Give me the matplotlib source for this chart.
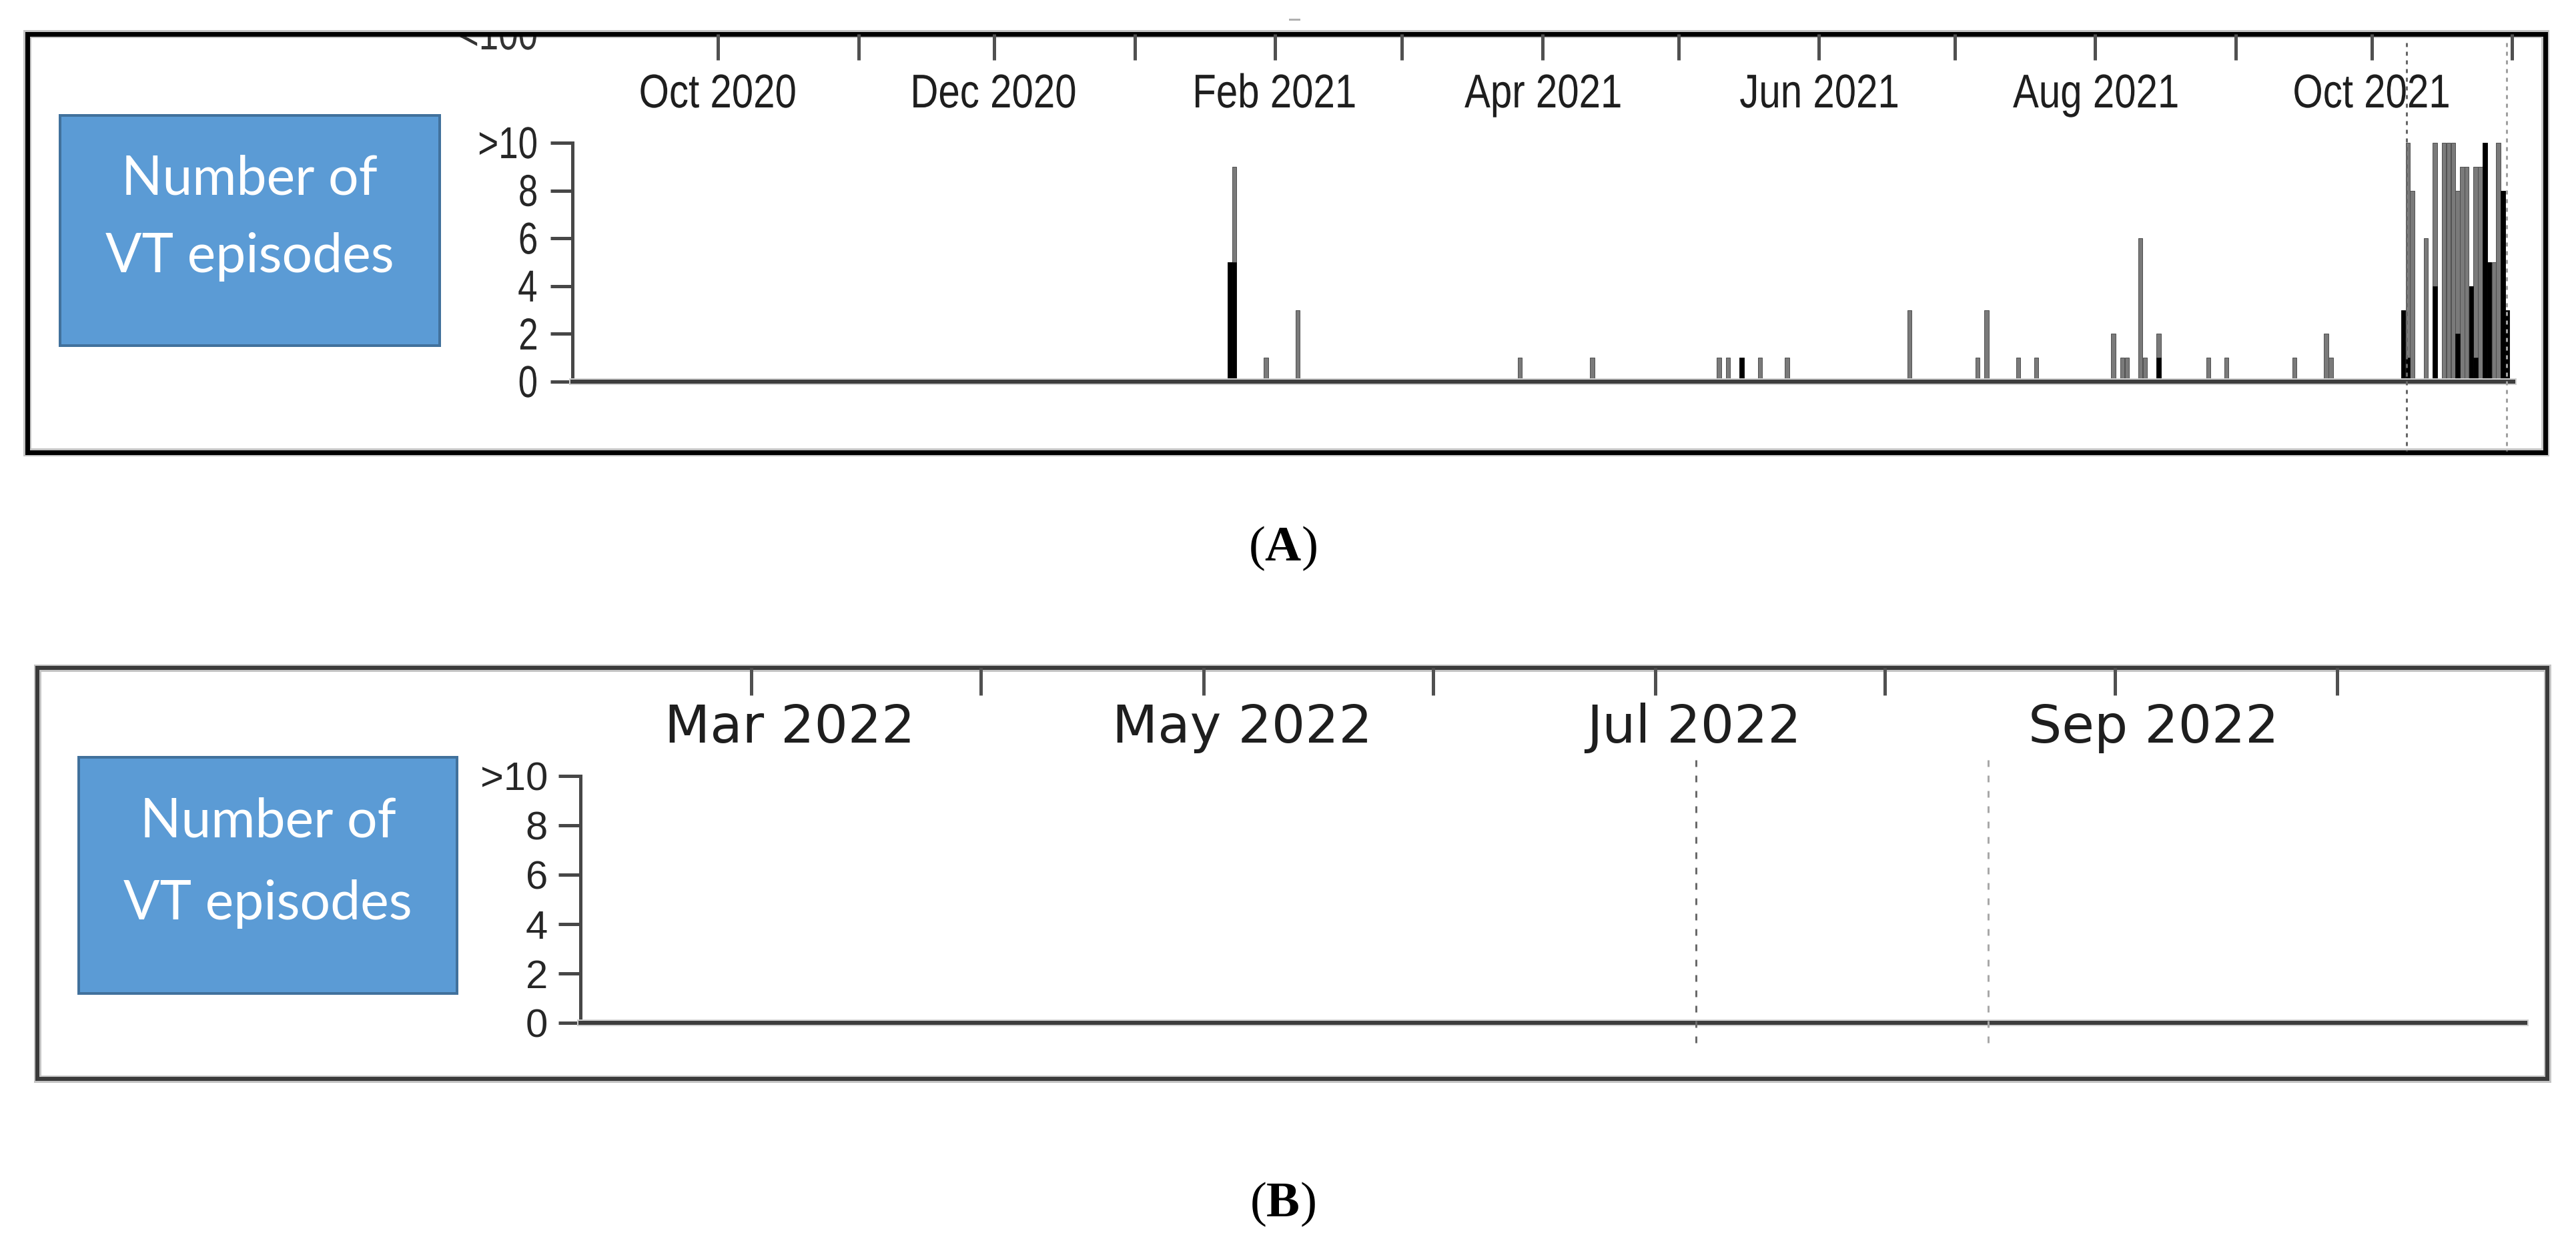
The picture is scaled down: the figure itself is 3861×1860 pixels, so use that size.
import matplotlib
matplotlib.use('Agg')
import matplotlib.pyplot as plt
import matplotlib.dates as mdates
import matplotlib.patheffects as pe
from matplotlib import font_manager
from matplotlib.font_manager import FontProperties
from matplotlib.patches import Rectangle, PathPatch
from matplotlib.lines import Line2D
from matplotlib.textpath import TextPath
from matplotlib.transforms import (blended_transform_factory, ScaledTranslation, Bbox,
                                   Affine2D)
import pandas as pd

# ---------------- data ----------------
a_dates = ['2021-01-22', '2021-01-23', '2021-01-30', '2021-02-06', '2021-03-27', '2021-04-12',
           '2021-05-10', '2021-05-12', '2021-05-15', '2021-05-19', '2021-05-25', '2021-06-21',
           '2021-07-06', '2021-07-08', '2021-07-15', '2021-07-19',
           '2021-08-05', '2021-08-07', '2021-08-08', '2021-08-11', '2021-08-12', '2021-08-15',
           '2021-08-26', '2021-08-30',
           '2021-09-14', '2021-09-21', '2021-09-22',
           '2021-10-08', '2021-10-09', '2021-10-10', '2021-10-13', '2021-10-15', '2021-10-17',
           '2021-10-18', '2021-10-19', '2021-10-20', '2021-10-21', '2021-10-22', '2021-10-23',
           '2021-10-24', '2021-10-25', '2021-10-26', '2021-10-27', '2021-10-28', '2021-10-29',
           '2021-10-30', '2021-10-31']
a_total = [5, 9, 1, 3, 1, 1,
           1, 1, 1, 1, 1, 3,
           1, 3, 1, 1,
           2, 1, 1, 6, 1, 2, 1, 1,
           1, 2, 1,
           3, 10, 8, 6, 10, 10, 10, 10, 8, 9, 9, 4, 9, 9, 10, 5, 5, 10, 8, 3]
a_black = [5, 5, 0, 0, 0, 0,
           0, 0, 1, 0, 0, 0,
           0, 0, 0, 0,
           0, 0, 0, 0, 0, 1, 0, 0,
           0, 0, 0,
           3, 1, 0, 0, 4, 0, 0, 0, 2, 0, 0, 4, 1, 0, 10, 5, 0, 0, 8, 3]
a_tick_start, a_tick_end = '2020-10-01', '2021-11-01'
a_label_dates = ['2020-10-01', '2020-12-01', '2021-02-01', '2021-04-01',
                 '2021-06-01', '2021-08-01', '2021-10-01']
a_labels = ['Oct 2020', 'Dec 2020', 'Feb 2021', 'Apr 2021', 'Jun 2021', 'Aug 2021', 'Oct 2021']
a_markers = ['2021-10-08 19:00', '2021-10-30 19:00']
a_xlim = ('2020-08-29 21:30', '2021-11-01 07:00')

b_dates = []
b_total = []
b_black = []
b_tick_start, b_tick_end = '2022-03-01', '2022-10-01'
b_label_dates = ['2022-03-01', '2022-05-01', '2022-07-01', '2022-09-01']
b_labels = ['Mar 2022', 'May 2022', 'Jul 2022', 'Sep 2022']
b_markers = ['2022-07-06 12:00', '2022-08-14 22:00']
b_xlim = ('2022-02-05 22:50', '2022-10-26 09:30')

y_ticks = [0, 2, 4, 6, 8, 10]
y_ticklabels = ['0', '2', '4', '6', '8', '>10']
box_lines = ['Number of', 'VT episodes']
captions = ['(A)', '(B)']

# ---------------- setup ----------------
W, H, DPI = 3861, 1860, 100
PT = 72.0 / DPI
plt.rcParams['lines.scale_dashes'] = False
plt.rcParams['mathtext.fontset'] = 'custom'
plt.rcParams['mathtext.rm'] = 'Liberation Serif'
plt.rcParams['mathtext.bf'] = 'Liberation Serif:bold'

names = {f.name for f in font_manager.fontManager.ttflist}
BOXFONT = 'Lato' if 'Lato' in names else 'DejaVu Sans'
NARROW_PROP = FontProperties(family='Liberation Sans')

GRAY, GRAY_EDGE = '#7a7a7a', '#4f4f4f'
AXC = '#474747'

fig = plt.figure(figsize=(W / DPI, H / DPI), dpi=DPI)
bg = fig.add_axes([0, 0, 1, 1])
bg.set_xlim(0, W)
bg.set_ylim(H, 0)
bg.axis('off')


def ax_px(l, r, t, b):
    return fig.add_axes([l / W, 1 - b / H, (r - l) / W, (b - t) / H])


halo = lambda w, c: [pe.Stroke(linewidth=w, foreground=c), pe.Normal()]


def narrow_text(x, y, s, base_trans, em=67, sx=0.79, ha='center', va='baseline',
                color='#262626', clip=None, zorder=6):
    """Horizontally condensed text (Arial-Narrow-like) drawn as a glyph path."""
    tp = TextPath((0, 0), s, size=em, prop=NARROW_PROP)
    ext = tp.get_extents()
    dx = {'center': -(ext.x0 + ext.x1) / 2 * sx, 'right': -ext.x1 * sx, 'left': 0}[ha]
    dy = -(ext.y0 + ext.y1) / 2 if va == 'center' else 0
    tr = Affine2D().scale(sx, 1).translate(dx, dy) + ScaledTranslation(x, y, base_trans)
    p = PathPatch(tp, transform=tr, facecolor=color, edgecolor='none', lw=0, zorder=zorder)
    if clip is not None:
        p.set_clip_box(clip)
        p.set_clip_on(True)
    fig.add_artist(p)
    return p


def draw_panel(P):
    ax = ax_px(P['l'], P['r'], P['t'], P['b'])
    ax.patch.set_visible(False)
    ymax = 10 * (P['b'] - P['t']) / (P['b'] - P['y10'])
    ax.set_xlim(pd.Timestamp(P['xlim'][0]), pd.Timestamp(P['xlim'][1]))
    ax.set_ylim(0, ymax)
    dates = pd.to_datetime(P['dates'])
    if len(dates):
        ax.bar(dates, P['total'], width=0.95, color=GRAY, edgecolor=GRAY_EDGE,
               linewidth=0.7, zorder=2)
        blk = [(d, v) for d, v in zip(dates, P['black']) if v > 0]
        ax.bar([d for d, _ in blk], [v for _, v in blk], width=0.95, color='black',
               edgecolor='black', linewidth=0.4, zorder=3)
    ax.set_xlim(pd.Timestamp(P['xlim'][0]), pd.Timestamp(P['xlim'][1]))
    ax.set_ylim(0, ymax)
    for s in ('top', 'right'):
        ax.spines[s].set_visible(False)
    ax.spines['left'].set_bounds(0, 10)
    ax.spines['left'].set_color(AXC)
    ax.spines['left'].set_linewidth(5 * PT)
    ax.spines['bottom'].set_color('#3d3d3d')
    ax.spines['bottom'].set_linewidth(6 * PT)
    ax.spines['bottom'].set_path_effects(halo(10 * PT, '#cfcfcf'))
    ax.spines['bottom'].set_zorder(4)
    ax.set_yticks(y_ticks)
    if P['narrow']:
        ax.set_yticklabels([])
        ax.tick_params(axis='y', labelleft=False)
        ytr = blended_transform_factory(bg.transData, ax.transData)
        for v, lab in zip(y_ticks, y_ticklabels):
            narrow_text(P['ylab_right'], v, lab, ytr, em=67, sx=0.79, ha='right',
                        va='center')
    else:
        ax.set_yticklabels(y_ticklabels, fontsize=P['ysize'], color='#262626',
                           family='Liberation Sans')
    ax.tick_params(axis='y', direction='out', length=33 * PT, width=5 * PT, color=AXC,
                   pad=P['ypad'] * PT)
    ticks = pd.date_range(P['tick_start'], P['tick_end'], freq='MS')
    ax.set_xticks(ticks)
    ax.xaxis.set_ticks_position('top')
    ax.tick_params(axis='x', direction='in', length=P['xtlen'] * PT, width=5 * PT,
                   color='#505050', labeltop=False, labelbottom=False)
    ax.minorticks_off()
    trans = blended_transform_factory(ax.transData, bg.transData)
    for d, lab in zip(P['label_dates'], P['labels']):
        xd = mdates.date2num(pd.Timestamp(d))
        if P['narrow']:
            xtr = blended_transform_factory(ax.transData, fig.transFigure)
            narrow_text(xd, 1 - P['label_y'] / H, lab, xtr, em=71, sx=0.82, ha='center',
                        color='#1e1e1e')
        else:
            off = trans + ScaledTranslation(P['label_dx'] / DPI, 0, fig.dpi_scale_trans)
            ax.text(xd, P['label_y'], lab, transform=off, ha='center', va='baseline',
                    fontsize=P['xsize'], color='#1e1e1e', clip_on=False,
                    family='DejaVu Sans')
    for m, c in zip(P['markers'], P['marker_colors']):
        x = mdates.date2num(pd.Timestamp(m))
        ax.add_line(Line2D([x, x], [P['mk_top'], P['mk_bot']], transform=trans,
                           color=c, linewidth=3 * PT, linestyle=P['mk_style'],
                           clip_on=False, zorder=5))
    # frame
    fl, ft, fr, fb = P['frame']
    bg.add_patch(Rectangle((fl, ft), fr - fl, fb - ft, fill=False,
                           edgecolor=P['frame_color'], linewidth=P['frame_w'] * PT,
                           path_effects=halo((P['frame_w'] + 5) * PT, '#c4c4c4'),
                           zorder=3))
    # blue label box
    bl, bt, br, bb = P['box']
    bg.add_patch(Rectangle((bl, bt), br - bl, bb - bt, facecolor='#5B9BD5',
                           edgecolor='#41719C', linewidth=4 * PT, zorder=2))
    for line, yb in zip(box_lines, P['box_baselines']):
        bg.text((bl + br) / 2, yb, line, ha='center', va='baseline', color='white',
                fontsize=58, family=BOXFONT, zorder=4)
    cx, cy, cap = P['caption']
    bg.text(cx, cy, '(' + r'$\mathbf{' + cap + '}$' + ')', ha='center', va='center',
            fontsize=54, family='Liberation Serif', color='black')
    return ax


A = dict(l=858, r=3767, t=51, b=572, y10=214, narrow=True, ylab_right=804,
         dates=a_dates, total=a_total, black=a_black, xlim=a_xlim,
         tick_start=a_tick_start, tick_end=a_tick_end,
         label_dates=a_label_dates, labels=a_labels, label_y=161, label_dx=0,
         xsize=51, ysize=48, ypad=21, xtlen=39,
         markers=a_markers, marker_colors=['#666666', '#a0a0a0'],
         mk_top=64, mk_bot=676, mk_style=(0, (6 * PT, 7 * PT)),
         frame=(41, 51, 3815, 678), frame_color='black', frame_w=7,
         box=(89.5, 173, 659, 518), box_baselines=[291, 408],
         caption=(1922, 822, 'A'))
B = dict(l=870, r=3785, t=1001, b=1533, y10=1163, narrow=False, ylab_right=821,
         dates=b_dates, total=b_total, black=b_black, xlim=b_xlim,
         tick_start=b_tick_start, tick_end=b_tick_end,
         label_dates=b_label_dates, labels=b_labels, label_y=1113, label_dx=58,
         xsize=57, ysize=43, ypad=16, xtlen=41,
         markers=b_markers, marker_colors=['#6a6a6a', '#a8a8a8'],
         mk_top=1139, mk_bot=1576, mk_style=(0, (10 * PT, 13 * PT)),
         frame=(56, 1001, 3818, 1617), frame_color='#3a3a3a', frame_w=6,
         box=(118, 1135, 685, 1489), box_baselines=[1254, 1378],
         caption=(1922, 1805, 'B'))

axA = draw_panel(A)
axB = draw_panel(B)

# clipped fragment of a label from a chart above panel A
narrow_text(804 / W, 1 - 74 / H, '<100', fig.transFigure, em=67, sx=0.79, ha='right',
            color='#333333', clip=Bbox([[0, 0], [W, H - 55]]), zorder=1)
bg.plot([1933, 1947], [29, 29], color='#b0b0b0', linewidth=3 * PT)

fig.savefig('out.png', dpi=DPI, facecolor='white')
